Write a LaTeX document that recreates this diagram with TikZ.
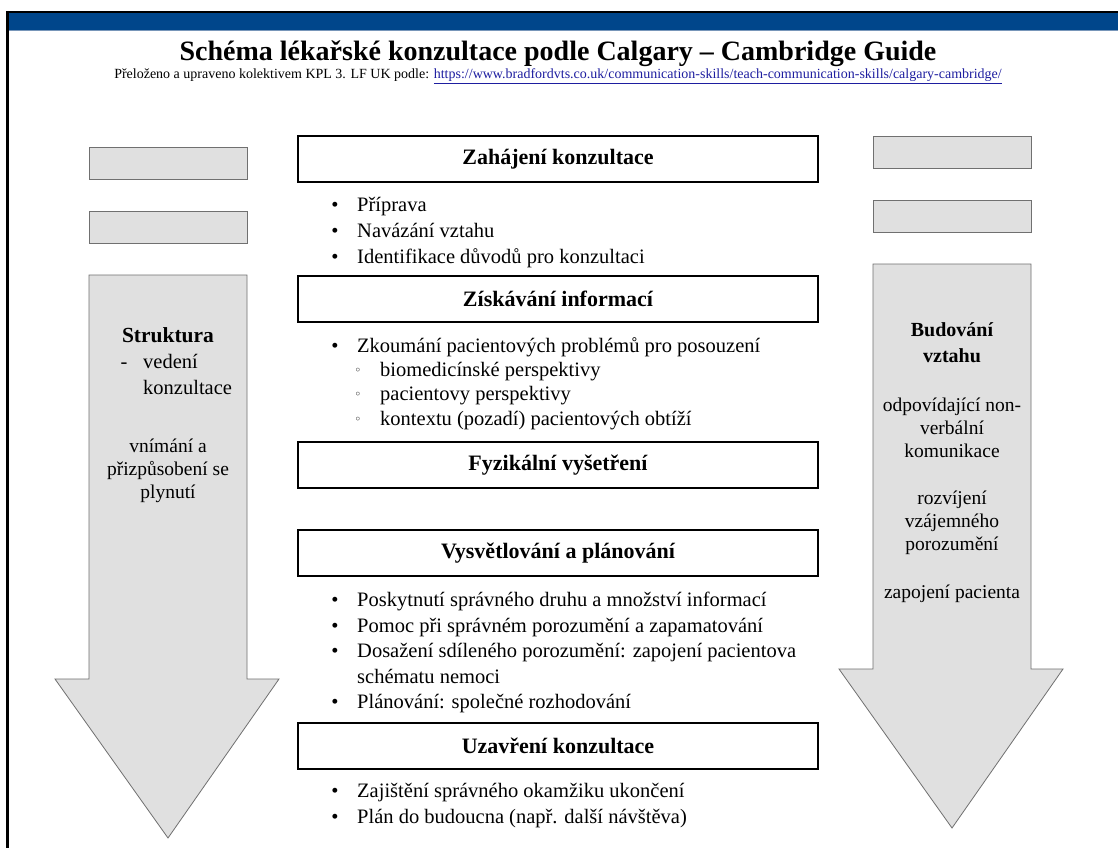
\documentclass[tikz,border=0pt]{standalone}
\usepackage{fontspec}
\setmainfont{Liberation Serif}
\newfontfamily\symbolfont{DejaVu Sans}
\usetikzlibrary{positioning}
\definecolor{barblue}{RGB}{0,70,139}
\definecolor{barline}{RGB}{120,150,185}
\definecolor{shaftgray}{RGB}{224,224,224}
\definecolor{edgegray}{RGB}{112,112,112}
\definecolor{linkblue}{RGB}{30,30,160}

\begin{document}
\begin{tikzpicture}[x=1pt, y=-1pt,
  stagebox/.style = {draw, line width=1.8pt, minimum width=520pt,
    minimum height=46pt, inner sep=0pt,
    font=\fontsize{22}{24}\selectfont\bfseries},
  blankbox/.style = {draw=edgegray, fill=shaftgray, line width=0.8pt,
    minimum width=158pt, minimum height=32pt},
  flowarrow/.style = {draw=edgegray, fill=shaftgray, line width=0.8pt},
  item/.style = {anchor=base west, inner sep=0pt,
    font=\fontsize{20.5}{22}\selectfont},
  dot/.style = {anchor=base, inner sep=0pt,
    font=\fontsize{20.5}{22}\selectfont},
  sidetext/.style = {align=center, inner sep=0pt,
    font=\fontsize{19.5}{23}\selectfont}]

  % page, frame and header bar
  \fill[white] (0,0) rectangle (1118,848);
  \useasboundingbox (0,0) rectangle (1118,848);
  \fill[barblue] (7,12) rectangle (1118,30);
  \draw[barline, line width=1pt] (7,30.5) -- (1118,30.5);
  \draw[line width=2pt] (7,12) -- (1118,12);
  \draw[line width=2.6pt] (7.5,11) -- (7.5,848);

  % title
  \node[font=\fontsize{28}{30}\selectfont\bfseries] (title) at (558,54)
    {Schéma lékařské konzultace podle Calgary – Cambridge Guide};
  \node[font=\fontsize{14}{15}\selectfont, below=-5pt of title] (source)
    {Přeloženo a upraveno kolektivem KPL 3. LF UK podle:
     \textcolor{linkblue}{\underline{https://www.bradfordvts.co.uk/communication-skills/teach-communication-skills/calgary-cambridge/}}};

  % side arrows
  \draw[flowarrow] (89,275) -- (247,275) -- (247,679) -- (279,679)
    -- (168,838) -- (55,679) -- (89,679) -- cycle;
  \draw[flowarrow] (873,264) -- (1031,264) -- (1031,669) -- (1063,669)
    -- (952,828) -- (839,669) -- (873,669) -- cycle;
  \node[blankbox] (lbox1) at (168,163) {};
  \node[blankbox] (lbox2) at (168,227) {};
  \node[blankbox] (rbox1) at (952,152) {};
  \node[blankbox] (rbox2) at (952,216) {};

  % left arrow text
  \node[sidetext, font=\fontsize{21.5}{24}\selectfont\bfseries] (struct)
    at (168,335) {Struktura};
  \node[dot] (dash) at (124,368) {-};
  \node[item] (lead1) at (143,368) {vedení};
  \node[item] (lead2) at (143,394) {konzultace};
  \node[sidetext] (flow) at (168,471) {vnímání a\\přizpůsobení se\\plynutí};

  % right arrow text
  \node[sidetext, font=\fontsize{20}{26}\selectfont\bfseries] (rapport)
    at (952,343) {Budování\\vztahu};
  \node[sidetext] (nonverb) at (952,428) {odpovídající non-\\verbální\\komunikace};
  \node[sidetext] (mutual) at (952,523) {rozvíjení\\vzájemného\\porozumění};
  \node[sidetext] (involve) at (952,594) {zapojení pacienta};

  % stages
  \node[stagebox] (open) at (558,159) {Zahájení konzultace};
  \node[stagebox] (gather) at (558,299) {Získávání informací};
  \node[stagebox] (exam) at (558,465) {Fyzikální vyšetření};
  \node[stagebox] (explain) at (558,553) {Vysvětlování a plánování};
  \node[stagebox] (close) at (558,746) {Uzavření konzultace};

  % bullet lists
  \foreach \yy/\txt in {211/Příprava, 237/Navázání vztahu,
      263/Identifikace důvodů pro konzultaci,
      352/Zkoumání pacientových problémů pro posouzení,
      606/Poskytnutí správného druhu a množství informací,
      632/Pomoc při správném porozumění a zapamatování,
      657/Dosažení sdíleného porozumění: zapojení pacientova,
      708/Plánování: společné rozhodování,
      797/Zajištění správného okamžiku ukončení,
      823/Plán do budoucna (např. další návštěva)}
  {
    \node[dot] (b\yy) at (335,\yy) {•};
    \node[item] (t\yy) at (357,\yy) {\txt};
  }
  \node[item] (t683) at (357,683) {schématu nemoci};
  \foreach \yy/\txt in {376/biomedicínské perspektivy,
      400/pacientovy perspektivy,
      425/kontextu (pozadí) pacientových obtíží}
  {
    \node[dot, font=\symbolfont\fontsize{12}{13}\selectfont] (c\yy)
      at (358,\yy-2) {◦};
    \node[item] (s\yy) at (380,\yy) {\txt};
  }
\end{tikzpicture}
\end{document}
